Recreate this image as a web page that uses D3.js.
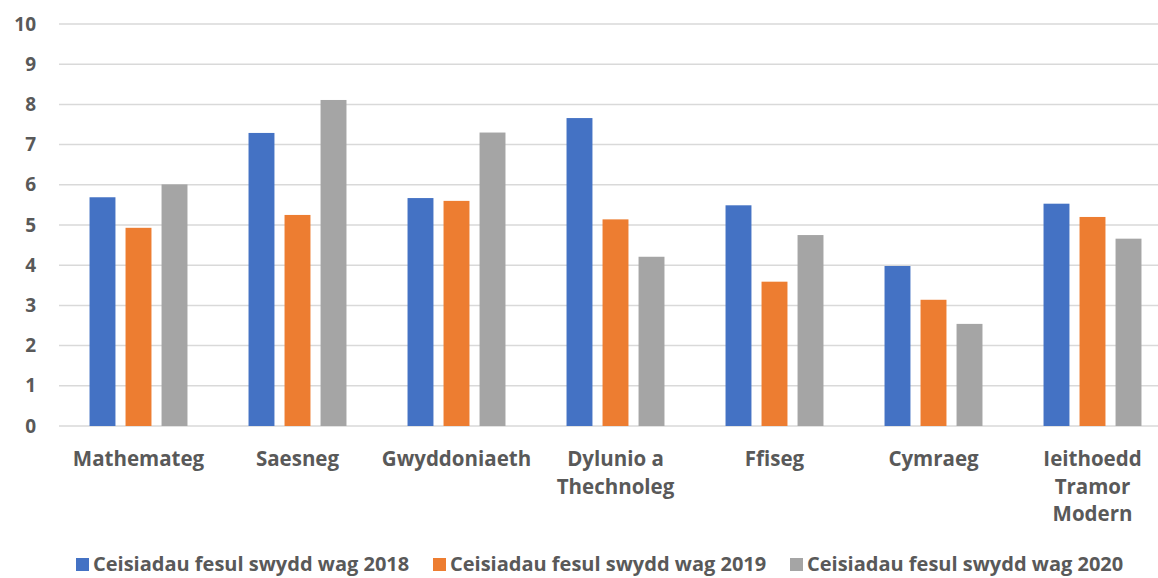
<!DOCTYPE html>
<html>
<head>
<meta charset="utf-8">
<script src="https://cdn.jsdelivr.net/npm/d3@7"></script>
<style>
  body { margin: 0; background: #fff; }
  svg { display: block; font-family: "Open Sans", Lato, sans-serif; font-weight: bold; }
</style>
</head>
<body>
<div id="chart"></div>
<script>
const categories = [
  ["Mathemateg"],
  ["Saesneg"],
  ["Gwyddoniaeth"],
  ["Dylunio a", "Thechnoleg"],
  ["Ffiseg"],
  ["Cymraeg"],
  ["Ieithoedd", "Tramor", "Modern"]
]
const seriesNames = [
  "Ceisiadau fesul swydd wag 2018",
  "Ceisiadau fesul swydd wag 2019",
  "Ceisiadau fesul swydd wag 2020"
]
const values2018 = [5.69, 7.29, 5.67, 7.66, 5.49, 3.98, 5.53]
const values2019 = [4.93, 5.25, 5.60, 5.14, 3.59, 3.14, 5.20]
const values2020 = [6.01, 8.11, 7.30, 4.21, 4.75, 2.54, 4.66]
const yTicks = [0, 1, 2, 3, 4, 5, 6, 7, 8, 9, 10]
const colors = ["#4472c4", "#ed7d31", "#a5a5a5"]

const seriesValues = [values2018, values2019, values2020]

function drawBars() {
    const dimensions = {
        width: 1158,
        height: 578,
        margin: { top: 24, right: -14, bottom: 152, left: 59 }
    }
    dimensions.boundedWidth = dimensions.width - dimensions.margin.left - dimensions.margin.right
    dimensions.boundedHeight = dimensions.height - dimensions.margin.top - dimensions.margin.bottom

    const wrapper = d3.select("#chart")
        .append("svg")
        .attr("width", dimensions.width)
        .attr("height", dimensions.height)

    const bounds = wrapper.append("g")
        .attr("transform", `translate(${dimensions.margin.left},${dimensions.margin.top})`)

    const catIndex = d3.range(categories.length)
    const xScale = d3.scaleBand()
        .domain(catIndex)
        .range([0, dimensions.boundedWidth])
        .paddingInner(0.384)
        .paddingOuter(0.192)
    const innerScale = d3.scaleBand()
        .domain(d3.range(seriesNames.length))
        .range([0, xScale.bandwidth()])
        .paddingInner(0.28)
    const yScale = d3.scaleLinear()
        .domain([0, 10])
        .range([dimensions.boundedHeight, 0])

    // gridlines
    bounds.append("g")
        .selectAll("line")
        .data(yTicks)
        .join("line")
        .attr("x1", 0)
        .attr("x2", dimensions.boundedWidth)
        .attr("y1", d => yScale(d))
        .attr("y2", d => yScale(d))
        .attr("stroke", "#d9d9d9")
        .attr("stroke-width", 1.5)

    // y axis labels
    const yAxis = bounds.append("g")
        .call(d3.axisLeft(yScale).tickValues(yTicks).tickSize(0).tickPadding(23))
    yAxis.select(".domain").remove()
    yAxis.selectAll("text")
        .attr("fill", "#595959")
        .style("font-size", "19px")
        .style("font-family", "'Open Sans', sans-serif")
        .style("font-weight", "bold")

    // bars
    const groups = bounds.selectAll(".group")
        .data(catIndex)
        .join("g")
        .attr("class", "group")
        .attr("transform", i => `translate(${xScale(i)},0)`)

    groups.selectAll("rect")
        .data(i => seriesValues.map((vals, s) => ({ s, v: vals[i] })))
        .join("rect")
        .attr("x", d => innerScale(d.s))
        .attr("width", innerScale.bandwidth())
        .attr("y", d => yScale(d.v))
        .attr("height", d => yScale(0) - yScale(d.v))
        .attr("fill", d => colors[d.s])

    // category labels
    const labels = bounds.append("g")
        .selectAll("text")
        .data(catIndex)
        .join("text")
        .attr("x", i => xScale(i) + xScale.bandwidth() / 2)
        .attr("y", dimensions.boundedHeight + 40)
        .attr("text-anchor", "middle")
        .attr("fill", "#595959")
        .style("font-size", "20.5px")
    labels.selectAll("tspan")
        .data(i => categories[i])
        .join("tspan")
        .attr("x", function () { return d3.select(this.parentNode).attr("x") })
        .attr("dy", (d, k) => k === 0 ? 0 : 27.7)
        .text(d => d)

    // legend (kept just inside the bottom edge)
    const legendX = [76, 433, 790]
    const legend = wrapper.append("g")
        .selectAll("g")
        .data(seriesNames)
        .join("g")
        .attr("transform", (d, i) => `translate(${legendX[i]},558)`)
    legend.append("rect")
        .attr("width", 13)
        .attr("height", 13)
        .attr("y", 0)
        .attr("fill", (d, i) => colors[i])
    legend.append("text")
        .attr("x", 17)
        .attr("y", 13)
        .attr("fill", "#595959")
        .style("font-size", "20px")
        .text(d => d)
}

drawBars()
</script>
</body>
</html>
